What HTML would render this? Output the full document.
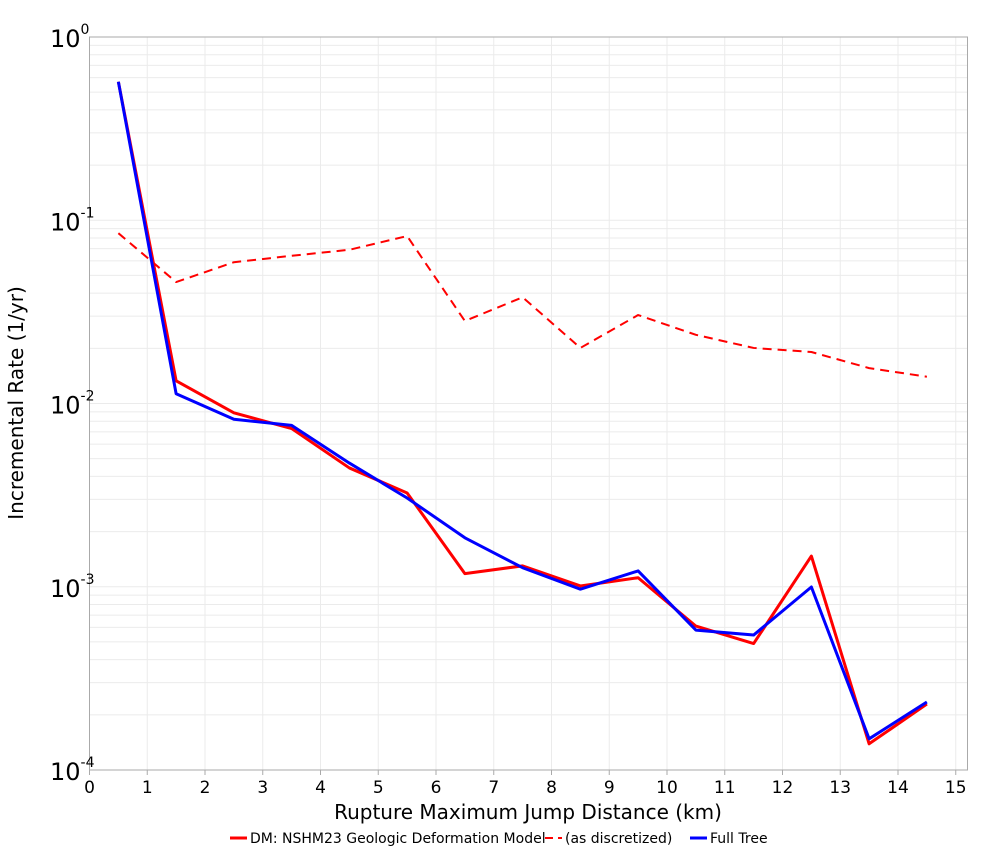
<!DOCTYPE html>
<html><head><meta charset="utf-8"><style>
body{margin:0;background:#fff;font-family:"DejaVu Sans","Liberation Sans",sans-serif}
svg text{font-family:"DejaVu Sans","Liberation Sans",sans-serif}
</style></head><body>
<svg id="chart" width="1000" height="850" xmlns="http://www.w3.org/2000/svg">
<g id="grid"></g>
<rect x="89.5" y="37" width="878" height="733" fill="none" stroke="#aaa" stroke-width="1"/>
<g id="series"></g>
<g id="axes"></g>
<text x="528" y="819" font-size="20" text-anchor="middle">Rupture Maximum Jump Distance (km)</text>
<text transform="translate(23,403) rotate(-90)" font-size="20" text-anchor="middle">Incremental Rate (1/yr)</text>
<g font-size="14">
<line x1="230" y1="838" x2="247" y2="838" stroke="#f00" stroke-width="3"/>
<text x="250" y="843">DM: NSHM23 Geologic Deformation Model</text>
<line x1="545" y1="838" x2="562" y2="838" stroke="#f00" stroke-width="2" stroke-dasharray="8,5"/>
<text x="565" y="843">(as discretized)</text>
<line x1="690" y1="838" x2="707" y2="838" stroke="#00f" stroke-width="3"/>
<text x="710" y="843">Full Tree</text>
</g>
</svg>
<script>
const xs=[0.5,1.5,2.5,3.5,4.5,5.5,6.5,7.5,8.5,9.5,10.5,11.5,12.5,13.5,14.5];
const dmRates=[0.57,0.0133,0.0089,0.0073,0.00445,0.00325,0.00118,0.0013,0.00101,0.00112,0.00061,0.00049,0.00147,0.000139,0.000229];
const discretizedRates=[0.085,0.046,0.059,0.064,0.069,0.082,0.0282,0.038,0.0201,0.0304,0.0237,0.0201,0.0191,0.0156,0.014];
const fullTreeRates=[0.57,0.0113,0.0082,0.0076,0.00473,0.00305,0.00185,0.00127,0.00097,0.00122,0.00058,0.000545,0.000997,0.000148,0.000235];
const xTicks=[0,1,2,3,4,5,6,7,8,9,10,11,12,13,14,15];
const yTickExps=[0,-1,-2,-3,-4];
const NS="http://www.w3.org/2000/svg";
const X=v=>89.5+v*57.75;
const Y=v=>37+(-Math.log10(v))*183.25;
function mk(t,a,p){const e=document.createElementNS(NS,t);for(const k in a)e.setAttribute(k,a[k]);p.appendChild(e);return e;}
const grid=document.getElementById('grid'),axes=document.getElementById('axes'),ser=document.getElementById('series');
xTicks.forEach(t=>{
 if(t>0){const l=mk('line',{x1:X(t),x2:X(t),y1:37,y2:770,stroke:'#ebebeb'},grid);
 }
 const tk=mk('line',{x1:X(t),x2:X(t),y1:770,y2:775,stroke:'#aaa'},axes);
 const tx=mk('text',{x:X(t),y:793,'font-size':17,'text-anchor':'middle'},axes);tx.textContent=t;
 
});
for(let e=-4;e<0;e++){for(let m=1;m<10;m++){const v=m*Math.pow(10,e);if(m===1&&e===-4)continue;
 const l=mk('line',{x1:89.5,x2:967.5,y1:Y(v),y2:Y(v),stroke:'#ebebeb'},grid);
 }}
yTickExps.forEach(e=>{
 const t=mk('text',{x:50,y:Y(Math.pow(10,e))+10,'font-size':24},axes);
 
 t.textContent='10';const s=mk('tspan',{dy:-13,'font-size':14},t);s.textContent=String(e);
});
function line(vals,color,name,dash,w){
 const p=mk('polyline',{points:xs.map((x,i)=>X(x)+','+Y(vals[i])).join(' '),fill:'none',stroke:color,'stroke-width':w,'stroke-linejoin':'round'},ser);
 if(dash)p.setAttribute('stroke-dasharray',dash);
 
}
line(discretizedRates,'#f00','discretized-line','9,6',2);
line(dmRates,'#f00','dm-line',null,3);
line(fullTreeRates,'#00f','full-tree-line',null,3);
</script>
</body></html>
